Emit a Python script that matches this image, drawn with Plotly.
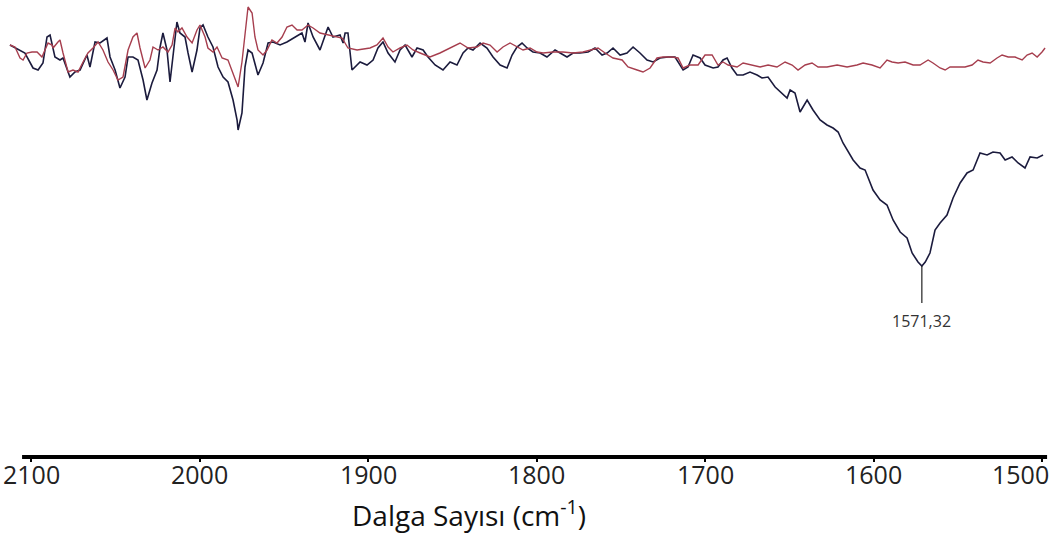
import plotly.graph_objects as go

# FTIR spectra: wavenumber (cm-1) vs. transmittance (%)
NAVY_WN = [
    2112.5, 2106.5, 2103.6, 2098.8, 2095.8, 2092.9, 2090.5, 2088.7, 2087.5, 2085.8,
    2082.8, 2081.0, 2076.9, 2073.9, 2070.9, 2066.8, 2065.0, 2062.0, 2059.0, 2054.9,
    2053.1, 2050.1, 2047.2, 2044.2, 2042.4, 2039.5, 2036.5, 2033.5, 2031.2, 2028.2,
    2025.2, 2023.4, 2021.7, 2019.3, 2017.5, 2015.7, 2013.4, 2011.6, 2008.6, 2006.8,
    2004.4, 2001.5, 1999.7, 1997.9, 1995.0, 1992.0, 1989.0, 1986.0, 1983.1, 1980.1,
    1977.7, 1977.1, 1974.8, 1973.0, 1971.2, 1968.8, 1967.1, 1965.3, 1962.3, 1959.3,
    1956.4, 1952.2, 1948.1, 1944.5, 1939.2, 1937.4, 1935.6, 1932.6, 1928.5, 1923.7,
    1920.8, 1916.6, 1914.8, 1913.6, 1911.9, 1909.5, 1904.7, 1900.6, 1897.0, 1894.1,
    1891.1, 1888.1, 1884.0, 1881.0, 1878.0, 1873.9, 1870.9, 1867.3, 1864.4, 1860.2,
    1855.5, 1851.3, 1847.2, 1843.6, 1840.6, 1837.7, 1833.5, 1829.4, 1825.8, 1821.6,
    1817.5, 1814.5, 1811.6, 1808.6, 1805.6, 1802.1, 1797.9, 1793.8, 1789.0, 1786.0,
    1781.9, 1778.3, 1774.2, 1769.4, 1765.3, 1761.1, 1758.1, 1754.6, 1750.4, 1746.3,
    1742.7, 1738.6, 1734.4, 1730.8, 1726.7, 1721.9, 1717.8, 1713.0, 1710.1, 1707.1,
    1702.9, 1700.0, 1695.2, 1692.3, 1689.3, 1686.9, 1684.0, 1681.0, 1677.4, 1673.3,
    1669.1, 1666.2, 1662.6, 1658.4, 1654.3, 1651.3, 1649.5, 1646.6, 1643.6, 1639.4,
    1635.9, 1631.7, 1627.6, 1624.0, 1621.0, 1618.1, 1612.1, 1608.0, 1605.0, 1600.3,
    1596.1, 1592.0, 1588.4, 1584.2, 1580.1, 1577.1, 1573.6, 1571.32, 1569.3, 1566.5,
    1563.5, 1560.5, 1556.4, 1552.8, 1548.6, 1544.5, 1540.9, 1536.8, 1532.6, 1529.1,
    1524.9, 1521.9, 1517.8, 1514.2, 1510.1, 1507.1, 1502.9, 1499.4,
]
NAVY_T = [
    91.0, 90.0, 89.4, 86.4, 86.0, 87.4, 92.6, 93.0, 91.4, 88.6,
    88.0, 88.4, 84.6, 85.6, 86.0, 89.0, 86.6, 91.6, 91.4, 92.4,
    88.6, 86.0, 82.4, 84.6, 88.6, 88.6, 88.0, 84.0, 80.0, 83.4,
    86.0, 90.6, 93.4, 90.0, 83.6, 89.4, 95.6, 93.4, 92.6, 89.4,
    85.6, 90.0, 94.4, 95.0, 92.6, 90.6, 86.6, 84.6, 83.6, 80.0,
    76.0, 74.0, 77.4, 86.6, 90.0, 89.4, 87.4, 85.0, 87.4, 91.4,
    91.6, 91.0, 91.6, 92.4, 93.4, 91.6, 95.4, 92.6, 90.0, 94.6,
    92.6, 93.0, 91.4, 93.4, 93.4, 86.0, 87.6, 87.0, 88.0, 90.4,
    91.6, 89.4, 87.6, 90.0, 91.0, 88.6, 90.4, 90.0, 88.6, 87.0,
    86.0, 87.6, 87.0, 89.4, 90.4, 90.0, 91.4, 90.4, 88.6, 87.0,
    86.4, 89.0, 90.6, 91.4, 90.4, 89.6, 89.4, 88.6, 90.0, 89.4,
    88.6, 89.4, 89.4, 89.6, 90.4, 89.0, 89.4, 90.4, 89.0, 89.4,
    90.6, 89.4, 88.0, 87.6, 88.4, 88.6, 88.6, 86.0, 86.6, 89.0,
    88.4, 87.0, 86.4, 86.6, 88.0, 88.4, 86.4, 85.0, 85.0, 85.6,
    85.0, 84.4, 84.6, 82.6, 81.4, 80.4, 82.0, 81.4, 77.6, 80.0,
    78.0, 76.0, 75.0, 74.4, 73.6, 71.4, 68.0, 66.4, 66.0, 62.0,
    60.0, 59.0, 56.0, 53.6, 52.4, 49.4, 47.6, 46.8, 47.6, 49.4,
    54.0, 55.4, 57.0, 60.4, 63.4, 65.4, 66.0, 69.4, 69.0, 69.6,
    69.4, 68.0, 68.6, 67.4, 66.4, 68.6, 68.4, 69.0,
]

RED_WN = [
    2112.5, 2109.5, 2106.5, 2104.7, 2102.4, 2099.4, 2096.4, 2093.5, 2091.7, 2089.9,
    2087.5, 2086.9, 2084.0, 2082.8, 2081.0, 2078.0, 2075.1, 2072.1, 2069.1, 2066.2,
    2063.2, 2060.2, 2057.3, 2054.3, 2051.3, 2048.4, 2045.4, 2042.4, 2039.5, 2037.1,
    2035.3, 2032.3, 2029.4, 2027.6, 2024.6, 2021.7, 2018.7, 2016.3, 2014.5, 2012.8,
    2010.4, 2007.4, 2004.4, 2001.5, 1999.7, 1996.7, 1995.0, 1992.0, 1989.6, 1986.6,
    1983.1, 1980.1, 1977.1, 1974.8, 1973.0, 1971.2, 1968.8, 1967.1, 1965.3, 1962.3,
    1959.9, 1957.0, 1954.0, 1951.0, 1948.1, 1945.1, 1942.1, 1939.2, 1935.6, 1932.6,
    1928.5, 1923.7, 1919.6, 1915.4, 1911.9, 1906.5, 1898.8, 1894.7, 1891.1, 1888.1,
    1885.2, 1881.0, 1876.9, 1873.3, 1869.1, 1863.2, 1857.3, 1851.3, 1845.4, 1840.6,
    1835.3, 1831.7, 1827.6, 1823.4, 1819.9, 1815.7, 1811.6, 1808.0, 1803.8, 1799.7,
    1796.1, 1790.2, 1784.3, 1778.3, 1772.4, 1767.0, 1763.5, 1759.3, 1754.6, 1749.2,
    1745.7, 1740.3, 1736.8, 1732.6, 1728.5, 1724.9, 1719.6, 1716.0, 1713.0, 1708.9,
    1704.1, 1700.0, 1695.8, 1692.3, 1689.3, 1686.3, 1681.0, 1677.4, 1672.1, 1667.3,
    1662.6, 1657.3, 1652.5, 1648.3, 1644.8, 1640.6, 1636.5, 1632.9, 1627.6, 1621.6,
    1615.7, 1609.8, 1606.2, 1600.9, 1596.1, 1592.0, 1589.0, 1585.4, 1581.3, 1576.5,
    1572.4, 1567.6, 1564.7, 1560.5, 1557.5, 1554.6, 1550.4, 1545.7, 1541.5, 1538.0,
    1535.0, 1530.8, 1526.7, 1523.7, 1520.1, 1516.0, 1511.8, 1508.9, 1505.9, 1502.9,
    1500.0, 1498.2,
]
RED_T = [
    91.0, 90.6, 88.4, 88.0, 89.4, 89.6, 89.6, 88.6, 90.0, 91.4,
    91.0, 90.4, 91.6, 92.0, 89.4, 85.6, 86.0, 85.6, 87.6, 89.4,
    90.4, 91.6, 90.0, 87.6, 86.0, 84.0, 84.6, 90.0, 92.6, 93.4,
    90.4, 86.4, 88.0, 90.6, 90.0, 90.6, 89.6, 91.0, 94.4, 93.6,
    94.4, 92.6, 91.4, 94.0, 95.0, 92.6, 90.4, 89.6, 90.6, 88.4,
    88.0, 85.4, 82.6, 87.6, 93.4, 98.6, 97.4, 92.6, 90.0, 89.0,
    90.0, 92.0, 91.4, 92.6, 94.6, 95.0, 94.0, 94.0, 95.0, 94.4,
    93.4, 93.0, 92.6, 92.4, 90.4, 90.0, 90.4, 91.0, 92.4, 90.6,
    89.6, 90.4, 91.0, 90.0, 89.4, 88.6, 89.4, 90.4, 91.4, 90.4,
    90.6, 91.4, 91.0, 89.6, 90.6, 91.4, 90.6, 90.0, 90.4, 89.6,
    89.4, 89.6, 89.6, 89.4, 89.6, 90.0, 90.4, 89.4, 88.4, 88.0,
    86.6, 86.0, 85.6, 86.4, 88.4, 88.6, 88.6, 88.4, 86.4, 87.0,
    87.0, 89.0, 89.0, 87.0, 87.6, 87.0, 86.6, 87.4, 87.0, 86.6,
    87.0, 86.6, 87.6, 87.0, 86.0, 87.0, 87.4, 86.6, 86.6, 87.0,
    86.6, 87.0, 87.4, 87.0, 86.4, 88.0, 87.6, 87.4, 87.6, 87.0,
    87.0, 88.0, 87.4, 86.4, 86.0, 86.6, 86.6, 86.6, 87.0, 88.0,
    87.6, 87.4, 88.4, 89.0, 88.6, 88.6, 88.0, 89.0, 89.4, 88.6,
    89.6, 90.4,
]

TICK_VALUES = [2100, 2000, 1900, 1800, 1700, 1600, 1500]
TICK_LABELS = ["2100", "2000", "1900", "1800", "1700", "1600", "1500"]
AXIS_TITLE = "Dalga Sayısı (cm<sup>-1</sup>)"

X_RANGE = [2118.4, 1492.3]
Y_RANGE = [8.6, 100.0]
AXIS_SPAN = [2105.3, 1497.0]

FONT = "Open Sans, Lato, sans-serif"
NAVY = "#1b1b3d"
RED = "#a63e4e"

fig = go.Figure()
fig.add_trace(go.Scatter(x=NAVY_WN, y=NAVY_T, mode="lines",
                         line=dict(color=NAVY, width=1.6), hoverinfo="skip"))
fig.add_trace(go.Scatter(x=RED_WN, y=RED_T, mode="lines",
                         line=dict(color=RED, width=1.4), hoverinfo="skip"))

# mark the deepest absorption band of the dark spectrum
peak_i = min(range(len(NAVY_T)), key=NAVY_T.__getitem__)
peak_wn, peak_t = NAVY_WN[peak_i], NAVY_T[peak_i]
peak_label = f"{peak_wn:.2f}".replace(".", ",")
fig.add_shape(type="line", xref="x", yref="y", x0=peak_wn, x1=peak_wn,
              y0=peak_t, y1=peak_t - 7.4, line=dict(color="#222222", width=1.2))
fig.add_annotation(x=peak_wn, y=peak_t - 7.4, xref="x", yref="y", text=peak_label,
                   showarrow=False, xanchor="center", yanchor="top", yshift=-5,
                   font=dict(family=FONT, size=16, color="#333333"))

# heavy baseline under the spectrum
fig.add_shape(type="line", xref="x", yref="paper", x0=AXIS_SPAN[0], x1=AXIS_SPAN[1],
              y0=0, y1=0, line=dict(color="black", width=4))

# tick labels; the last one is pulled inside the right edge
for i, (val, txt) in enumerate(zip(TICK_VALUES, TICK_LABELS)):
    last = i == len(TICK_VALUES) - 1
    fig.add_annotation(x=val, y=0, xref="x", yref="paper", text=txt,
                       showarrow=False, xanchor="right" if last else "center",
                       yanchor="top", xshift=9 if last else 0, yshift=2,
                       font=dict(family=FONT, size=25, color="#222222"))

fig.add_annotation(x=0.4445, y=-0.1247, xref="paper", yref="paper", text=AXIS_TITLE,
                   showarrow=False, xanchor="center", yanchor="middle",
                   font=dict(family=FONT, size=28, color="#111111"))

fig.update_layout(
    width=1055, height=539,
    margin=dict(l=0, r=0, t=0, b=82),
    paper_bgcolor="white", plot_bgcolor="white",
    showlegend=False,
)
fig.update_xaxes(range=X_RANGE, showgrid=False, zeroline=False, showline=False,
                 tickmode="array", tickvals=TICK_VALUES, showticklabels=False,
                 ticks="outside", ticklen=4, tickwidth=1.5, tickcolor="black")
fig.update_yaxes(range=Y_RANGE, visible=False, showgrid=False, zeroline=False)

fig.write_html("out.html")
